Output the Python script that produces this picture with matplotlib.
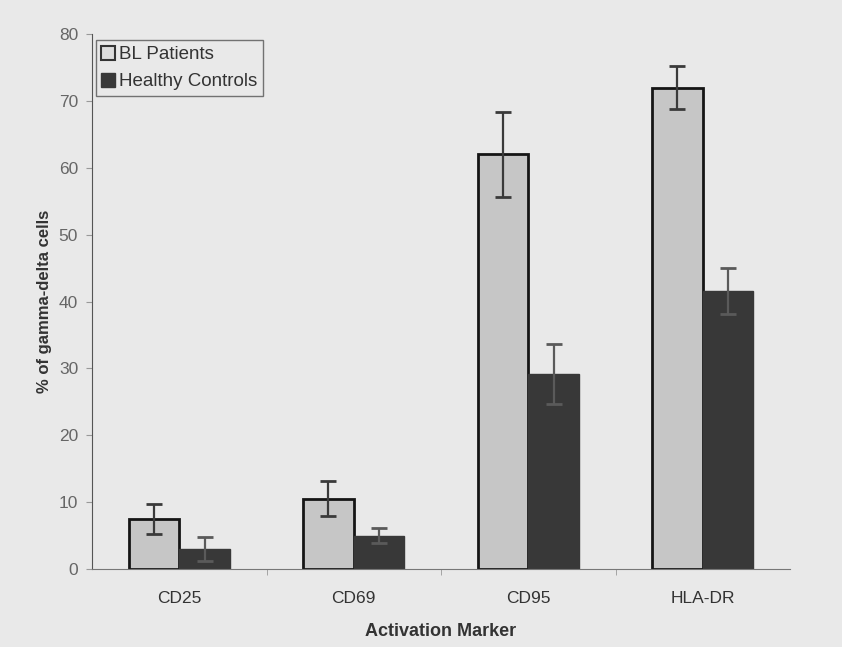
import matplotlib
matplotlib.use("Agg")
import matplotlib.pyplot as plt
import numpy as np
from matplotlib.patches import Patch

categories = ["CD25", "CD69", "CD95", "HLA-DR"]
bl_values = [7.5, 10.5, 62.0, 72.0]
bl_errors = [2.2, 2.6, 6.4, 3.2]
hc_values = [3.0, 5.0, 29.2, 41.6]
hc_errors = [1.8, 1.1, 4.5, 3.4]
series_names = ["BL Patients", "Healthy Controls"]

plt.rcParams['font.family'] = ['Liberation Sans', 'DejaVu Sans']

bg = "#e9e9e9"
fig = plt.figure(figsize=(8.42, 6.47), dpi=100, facecolor=bg)
ax = fig.add_axes([0.1093, 0.1206, 0.829, 0.8268], facecolor=bg)

x = np.arange(len(categories))
w = 0.29
light = "#c6c6c6"
dark = "#383838"

ax.bar(x - w/2, bl_values, width=w, color=light, edgecolor="#151515", linewidth=2.0, zorder=2)
ax.bar(x + w/2, hc_values, width=w, color=dark, edgecolor=dark, linewidth=1.0, zorder=2)
ax.errorbar(x - w/2, bl_values, yerr=bl_errors, fmt="none", ecolor="#3a3a3a",
            elinewidth=1.6, capsize=6, capthick=2, zorder=3)
ax.errorbar(x + w/2, hc_values, yerr=hc_errors, fmt="none", ecolor="#5a5a5a",
            elinewidth=1.6, capsize=6, capthick=2, zorder=3)

ax.set_xlim(-0.5, len(categories) - 0.5)
ax.set_ylim(0, 80)
ax.set_yticks(np.arange(0, 81, 10))
ax.set_xticks(x)
ax.set_xticklabels(categories)
ax.set_xticks(np.arange(0.5, len(categories) - 0.5, 1), minor=True)
ax.tick_params(axis='x', which='major', length=0, pad=16, labelsize=12.5, labelcolor="#333333")
ax.tick_params(axis='x', which='minor', length=4, color="#999999", direction="out")
ax.tick_params(axis='y', length=4, color="#999999", labelsize=12.5, labelcolor="#666666", pad=6)

for s in ["top", "right"]:
    ax.spines[s].set_visible(False)
ax.spines["left"].set_color("#555555")
ax.spines["bottom"].set_color("#777777")

ax.set_xlabel("Activation Marker", fontsize=13, fontweight="bold", color="#333333", labelpad=12)
ax.set_ylabel("% of gamma-delta cells", fontsize=12, fontweight="bold", color="#333333", labelpad=5)

handles = [Patch(facecolor="#dcdcdc", edgecolor="#333333", linewidth=1.5),
           Patch(facecolor=dark, edgecolor=dark)]
leg = ax.legend(handles, series_names, loc="upper left", bbox_to_anchor=(0.0, 0.995),
                fontsize=13.5, frameon=True, fancybox=False, handlelength=0.75, handleheight=0.75,
                handletextpad=0.2, borderpad=0.3, labelspacing=0.5, borderaxespad=0.2)
leg.get_frame().set_edgecolor("#555555")
leg.get_frame().set_facecolor(bg)
leg.get_frame().set_linewidth(1.0)
for t in leg.get_texts():
    t.set_color("#333333")

fig.savefig("out.png", dpi=100, facecolor=bg)
